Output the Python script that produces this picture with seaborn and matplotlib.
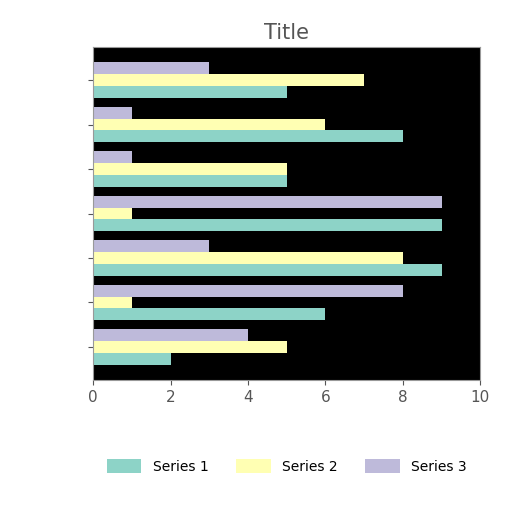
import matplotlib
matplotlib.use("Agg")
import matplotlib.pyplot as plt
import seaborn as sns
import pandas as pd

categories = ["A", "B", "C", "D", "E", "F", "G"]  # bottom to top
series_names = ["Series 1", "Series 2", "Series 3"]
series1 = [2, 6, 9, 9, 5, 8, 5]
series2 = [5, 1, 8, 1, 5, 6, 7]
series3 = [4, 8, 3, 9, 1, 1, 3]
colors = ["#8dd3c7", "#ffffb3", "#bebada"]

rows = []
for name, vals in zip(series_names, [series1, series2, series3]):
    for c, v in zip(categories, vals):
        rows.append({"category": c, "value": v, "series": name})
df = pd.DataFrame(rows)

fig = plt.figure(figsize=(5.12, 5.12), dpi=100)
ax = fig.add_axes([0.182, 0.258, 0.756, 0.650])
ax.set_facecolor("black")
sns.barplot(data=df, x="value", y="category", hue="series", order=categories,
            hue_order=series_names, palette=colors, saturation=1, width=0.8,
            orient="h", ax=ax, errorbar=None)
ax.set_ylim(-0.74, 6.74)
ax.set_xlim(0, 10)
ax.set_xticks([0, 2, 4, 6, 8, 10])
ax.set_yticklabels([])
ax.set_xlabel("")
ax.set_ylabel("")
ax.tick_params(labelsize=11, colors="#555555")
for s in ax.spines.values():
    s.set_color("#999999")
ax.set_title("Title", fontsize=15, color="#555555")
leg = ax.legend(loc="center", bbox_to_anchor=(0.5, -0.26), ncol=3, frameon=False,
                fontsize=10, handlelength=2.5, handleheight=1.2)
fig.savefig("out.png", dpi=100)
